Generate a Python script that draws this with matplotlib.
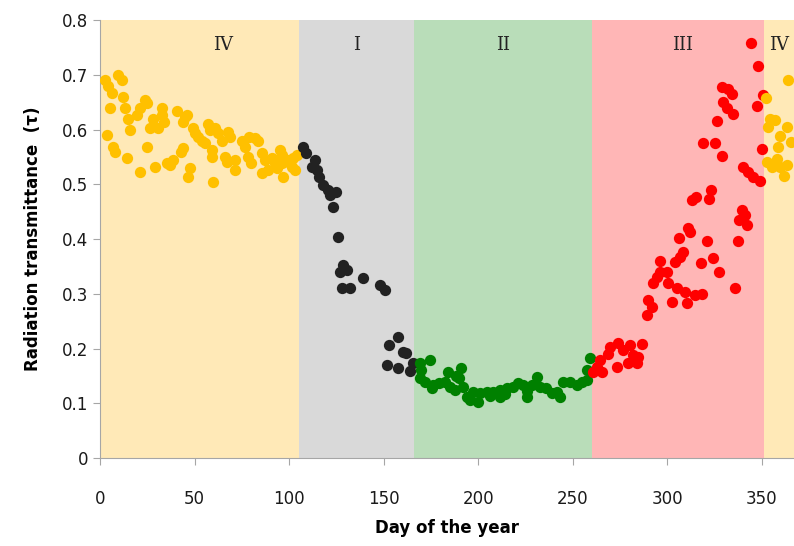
import matplotlib.pyplot as plt

# --- data (day of year, transmittance) ---
day_iv_a = [2.6, 9.5, 11.6, 4, 6.3, 12, 5.3, 13, 15, 19.6, 24, 25, 21, 28, 32.8, 33, 34,
            40.7, 45, 46, 44, 3.7, 16, 26.4, 30.7, 7, 8, 14, 25, 21, 29, 35.5, 38.6, 37,
            44, 43, 47.6, 46.5, 60, 49, 50, 51.8, 54, 57, 58, 55.5, 61, 62.4, 64.5, 59,
            59, 67.7, 68.7, 66, 67, 71.4, 71.4, 75, 76.7, 79, 82, 83.5, 78, 80, 85.6,
            85.6, 88.8, 87, 91, 92.5, 95, 96, 97, 99, 101.5, 102, 103, 104, 93.6, 96, 100.5]
tau_iv_a = [0.69, 0.70, 0.69, 0.68, 0.667, 0.66, 0.64, 0.64, 0.62, 0.626, 0.654, 0.648,
            0.64, 0.62, 0.64, 0.626, 0.614, 0.635, 0.623, 0.626, 0.614, 0.59, 0.599, 0.603,
            0.603, 0.568, 0.559, 0.548, 0.568, 0.522, 0.532, 0.539, 0.544, 0.535, 0.566,
            0.56, 0.53, 0.513, 0.504, 0.603, 0.594, 0.587, 0.58, 0.61, 0.599, 0.575, 0.603,
            0.594, 0.58, 0.562, 0.55, 0.596, 0.587, 0.55, 0.541, 0.544, 0.526, 0.58, 0.568,
            0.587, 0.584, 0.58, 0.55, 0.539, 0.557, 0.52, 0.526, 0.544, 0.548, 0.539, 0.562,
            0.553, 0.513, 0.544, 0.532, 0.548, 0.526, 0.553, 0.53, 0.539, 0.539]

day_i = [107.5, 109, 113.7, 112, 114.7, 116, 118, 120.6, 125, 121.6, 123, 126, 128.5, 127,
         130.6, 128, 132, 139, 148, 150.7, 157.6, 153, 160, 162, 152, 157.6, 164, 165.5]
tau_i = [0.569, 0.557, 0.544, 0.532, 0.526, 0.513, 0.499, 0.49, 0.486, 0.48, 0.459, 0.404,
         0.353, 0.34, 0.343, 0.31, 0.31, 0.329, 0.316, 0.307, 0.221, 0.206, 0.194, 0.192,
         0.17, 0.164, 0.16, 0.173]

day_ii = [174.5, 169, 170, 169, 172, 175.5, 176, 179, 182.4, 185, 187.7, 191, 190, 192, 194,
          195.7, 200, 201, 204.6, 208, 211.5, 211.5, 215, 218.4, 221, 223.7, 225.8, 228.4,
          231, 232.7, 236, 239, 241.7, 245, 248.5, 252, 255, 257.4, 257.4, 259,
          184, 188, 197, 206, 214, 226, 243]
tau_ii = [0.179, 0.173, 0.161, 0.146, 0.139, 0.128, 0.133, 0.137, 0.139, 0.13, 0.124, 0.164,
          0.146, 0.13, 0.111, 0.106, 0.102, 0.119, 0.121, 0.121, 0.124, 0.111, 0.128, 0.13,
          0.137, 0.133, 0.111, 0.133, 0.148, 0.13, 0.128, 0.119, 0.121, 0.139, 0.139, 0.133,
          0.139, 0.142, 0.161, 0.183,
          0.157, 0.15, 0.12, 0.113, 0.118, 0.122, 0.112]

day_iii = [344.1, 348.1, 328.7, 332.3, 334, 329.6, 331.4, 334.9, 347.3, 350.4, 326.1, 319,
           325.2, 328.8, 349.9, 340.2, 342.8, 345.5, 349, 323, 312.9, 315.2, 322.2, 339.3,
           341.1, 338.1, 342, 311.1, 312, 306.2, 321.2, 337.6, 308.5, 306.7, 296.1, 304.1,
           317.6, 324.3, 327.5, 296.1, 294.4, 292.6, 299.7, 300.5, 305, 309.4, 314.6, 318.2,
           310.2, 302.3, 336, 290, 291.7, 289.1, 286.5, 280.3, 274.1, 269.7, 268.8, 276.7,
           282, 284.7, 273.2, 279.4, 283.8, 264.4, 262.7, 265.3, 260.9]
tau_iii = [0.759, 0.716, 0.678, 0.675, 0.666, 0.651, 0.639, 0.628, 0.643, 0.663, 0.616, 0.576,
           0.575, 0.552, 0.564, 0.532, 0.523, 0.514, 0.507, 0.49, 0.472, 0.477, 0.474, 0.453,
           0.444, 0.435, 0.426, 0.42, 0.413, 0.403, 0.397, 0.397, 0.377, 0.368, 0.36, 0.359,
           0.357, 0.365, 0.34, 0.34, 0.331, 0.319, 0.34, 0.319, 0.31, 0.304, 0.298, 0.3,
           0.283, 0.286, 0.31, 0.289, 0.276, 0.261, 0.209, 0.206, 0.211, 0.203, 0.191, 0.197,
           0.188, 0.185, 0.167, 0.173, 0.173, 0.179, 0.167, 0.158, 0.158]

day_iv_b = [364, 352.2, 354.3, 357, 353.4, 363.5, 359.6, 365.3, 358.7, 352.5, 357.8, 355.2,
            363.1, 359.6, 361.7]
tau_iv_b = [0.69, 0.657, 0.62, 0.617, 0.605, 0.604, 0.588, 0.578, 0.569, 0.541, 0.547, 0.532,
            0.535, 0.532, 0.515]

# season bounds (day of year) and labels
season_edges = [0, 105, 166, 260, 351, 367]
season_names = ['IV', 'I', 'II', 'III', 'IV']
season_label_days = [65, 135.5, 213, 308, 359]

bg_colors = ['#FFE9B7', '#D9D9D9', '#B9DDB9', '#FFB6B6', '#FFE9B7']

fig = plt.figure(figsize=(7.94, 5.46), dpi=100)
ax = fig.add_axes([0.126, 0.161, 0.874, 0.802])

for i in range(len(season_names)):
    ax.axvspan(season_edges[i], season_edges[i + 1], color=bg_colors[i], lw=0, zorder=0)
    ax.text(season_label_days[i], 0.943, season_names[i], transform=ax.get_xaxis_transform(),
            ha='center', va='center', fontsize=13, family='DejaVu Serif', color='#222222')

ms = 66
ax.scatter(day_iv_a, tau_iv_a, s=ms, color='#FFC000', lw=0, zorder=3)
ax.scatter(day_i, tau_i, s=ms, color='#222222', lw=0, zorder=3)
ax.scatter(day_ii, tau_ii, s=ms, color='#008000', lw=0, zorder=3)
ax.scatter(day_iii, tau_iii, s=ms, color='#FF0000', lw=0, zorder=3)
ax.scatter(day_iv_b, tau_iv_b, s=ms, color='#FFC000', lw=0, zorder=3)

ax.set_xlim(0, 367)
ax.set_ylim(0, 0.8)
ax.set_xticks(range(0, 351, 50))
ax.set_yticks([i / 10 for i in range(9)])
ax.set_yticklabels(['0'] + ['%.1f' % (i / 10) for i in range(1, 9)])

for s in ['top', 'right']:
    ax.spines[s].set_visible(False)
for s in ['left', 'bottom']:
    ax.spines[s].set_color('#A6A6A6')
ax.tick_params(axis='both', colors='#A6A6A6', labelcolor='#1a1a1a', length=5, labelsize=12)
ax.tick_params(axis='x', pad=18)

ax.set_xlabel('Day of the year', fontsize=12, fontweight='bold', labelpad=8)
ax.set_ylabel('Radiation transmittance  (τ)', fontsize=12, fontweight='bold', labelpad=14)

plt.savefig('out.png', dpi=100)
